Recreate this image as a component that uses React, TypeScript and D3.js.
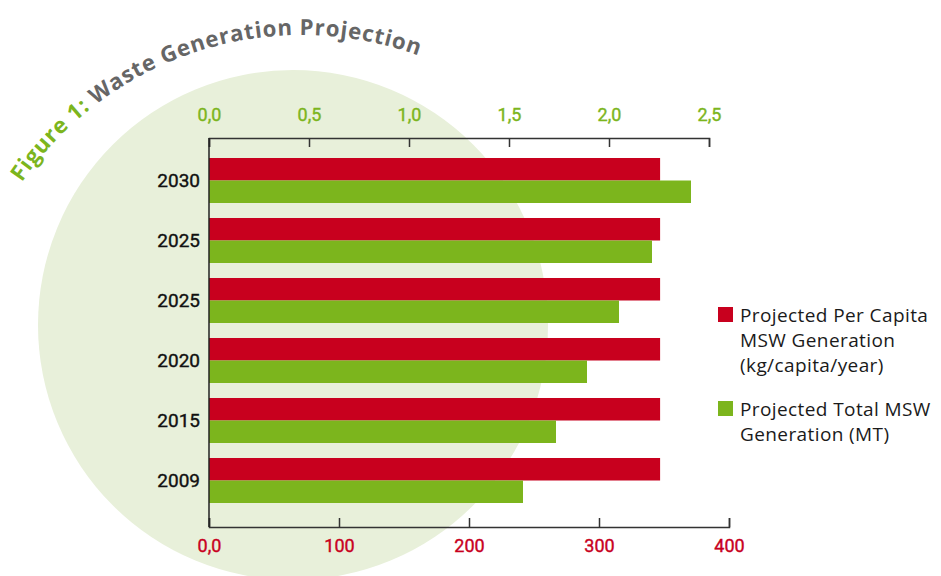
import React, { useRef, useEffect } from "react";
import * as d3 from "d3";

// data
const years = ["2030", "2025", "2025", "2020", "2015", "2009"];
const perCapita = [347, 347, 347, 347, 347, 347]; // kg/capita/year (bottom axis)
const totalMSW = [2.41, 2.215, 2.05, 1.89, 1.735, 1.57]; // MT (top axis)
const topTicks = [0, 0.5, 1, 1.5, 2, 2.5];
const bottomTicks = [0, 100, 200, 300, 400];
const legendRed = ["Projected Per Capita", "MSW Generation", "(kg/capita/year)"];
const legendGreen = ["Projected Total MSW", "Generation (MT)"];
const titleParts = [
  { text: "Figure 1: ", color: "#7cb51d" },
  { text: "Waste Generation Projection", color: "#666666" },
];

const RED = "#c8001e";
const GREEN = "#7cb51d";
const PALE = "#e8f0da";
const FONT = "Roboto, 'DejaVu Sans', sans-serif";
const LEGEND_FONT = "'Open Sans', Roboto, sans-serif";
const TITLE_FONT = "'Open Sans', sans-serif";

function App() {
  const svgRef = useRef(null);

  useEffect(() => {
    const svg = d3.select(svgRef.current);
    svg.selectAll("*").remove();

    const left = 209, top = 138, bottom = 527;

    // background disc
    svg.append("circle")
      .attr("cx", 293).attr("cy", 325).attr("r", 255)
      .attr("fill", PALE);

    // curved title, one glyph at a time along an arc
    const cx = 302, cy = 375, r = 340;
    const a0 = (-145.5 * Math.PI) / 180, a1 = (-70 * Math.PI) / 180;
    const L = r * (a1 - a0);
    const chars = [];
    titleParts.forEach((p) => p.text.split("").forEach((c) => chars.push({ c, color: p.color })));
    const probe = svg.append("text")
      .style("font-family", TITLE_FONT)
      .style("font-weight", "bold")
      .style("font-size", "24px");
    chars.forEach((ch) => {
      probe.text(ch.c === " " ? "\u00a0" : ch.c);
      ch.w = probe.node().getComputedTextLength();
    });
    probe.remove();
    const minGap = 0.8;
    const k = Math.min(1, (L - minGap * (chars.length - 1)) / d3.sum(chars, (d) => d.w));
    chars.forEach((ch) => (ch.w *= k));
    const fs = 24 * k;
    const gap = (L - d3.sum(chars, (d) => d.w)) / (chars.length - 1);
    let s = 0;
    chars.forEach((ch) => {
      const mid = s + ch.w / 2;
      s += ch.w + gap;
      if (ch.c === " ") return;
      const a = a0 + mid / r;
      const x = cx + r * Math.cos(a), yy = cy + r * Math.sin(a);
      svg.append("text")
        .attr("transform", `translate(${x},${yy}) rotate(${(a * 180) / Math.PI + 90})`)
        .attr("text-anchor", "middle")
        .attr("fill", ch.color)
        .style("font-family", TITLE_FONT)
        .style("font-weight", "bold")
        .style("font-size", `${fs}px`)
        .text(ch.c);
    });

    const xTop = d3.scaleLinear().domain([0, 2.5]).range([left, 709]);
    const xBottom = d3.scaleLinear().domain([0, 400]).range([left, 729]);
    const y = d3.scaleBand()
      .domain(d3.range(years.length))
      .range([143, 518])
      .padding(0.25);

    // bars
    const bh = y.bandwidth() / 2;
    svg.selectAll(".bar-red")
      .data(perCapita)
      .join("rect")
      .attr("class", "bar-red")
      .attr("fill", RED)
      .attr("x", xBottom(0))
      .attr("y", (d, i) => y(i))
      .attr("width", (d) => xBottom(d) - xBottom(0))
      .attr("height", bh);

    svg.selectAll(".bar-green")
      .data(totalMSW)
      .join("rect")
      .attr("class", "bar-green")
      .attr("fill", GREEN)
      .attr("x", xTop(0))
      .attr("y", (d, i) => y(i) + bh)
      .attr("width", (d) => xTop(d) - xTop(0))
      .attr("height", bh);

    // axes
    const topAxis = d3.axisTop(xTop)
      .tickValues(topTicks)
      .tickFormat((d) => d3.format(".1f")(d).replace(".", ","))
      .tickSizeInner(-9)
      .tickSizeOuter(-9)
      .tickPadding(17);
    const gTop = svg.append("g").attr("transform", `translate(0,${top})`).call(topAxis);
    gTop.selectAll("text").attr("fill", GREEN).attr("stroke", GREEN).attr("stroke-width", 0.4)
      .style("font-size", "18px").style("font-family", FONT);

    const bottomAxis = d3.axisBottom(xBottom)
      .tickValues(bottomTicks)
      .tickFormat((d) => (d === 0 ? "0,0" : String(d)))
      .tickSizeInner(-9)
      .tickSizeOuter(-9)
      .tickPadding(12);
    const gBot = svg.append("g").attr("transform", `translate(0,${bottom})`).call(bottomAxis);
    gBot.selectAll("text").attr("fill", RED).attr("stroke", RED).attr("stroke-width", 0.4)
      .style("font-size", "18px").style("font-family", FONT);

    svg.selectAll(".domain, .tick line").attr("stroke", "#333").attr("stroke-width", 1.5);

    // vertical axis line + year labels
    svg.append("line")
      .attr("x1", left).attr("x2", left)
      .attr("y1", top).attr("y2", bottom)
      .attr("stroke", "#222").attr("stroke-width", 1.5);

    svg.selectAll(".year")
      .data(years)
      .join("text")
      .attr("class", "year")
      .attr("x", 200)
      .attr("y", (d, i) => y(i) + y.bandwidth() / 2)
      .attr("dy", "0.33em")
      .attr("text-anchor", "end")
      .attr("fill", "#111")
      .attr("stroke", "#111")
      .attr("stroke-width", 0.4)
      .style("font-family", FONT)
      .style("font-size", "19px")
      .text((d) => d);

    // legend
    const legend = [
      { color: RED, lines: legendRed, y: 307 },
      { color: GREEN, lines: legendGreen, y: 401 },
    ];
    legend.forEach((l) => {
      svg.append("rect")
        .attr("x", 718).attr("y", l.y)
        .attr("width", 15).attr("height", 15)
        .attr("fill", l.color);
      svg.append("text")
        .attr("fill", "#1a1a1a")
        .style("font-family", LEGEND_FONT)
        .style("font-size", "19px")
        .style("font-weight", 500)
        .style("letter-spacing", "0.4px")
        .selectAll("tspan")
        .data(l.lines)
        .join("tspan")
        .attr("x", 740)
        .attr("y", (d, i) => l.y + 8.5 + i * 25)
        .attr("dy", "0.35em")
        .text((d) => d);
    });
  }, []);

  return (
    <div style={{ position: "absolute", left: 0, top: 0 }}>
      <svg ref={svgRef} width={941} height={576} style={{ display: "block", background: "#fff" }} />
    </div>
  );
}

export default App;
